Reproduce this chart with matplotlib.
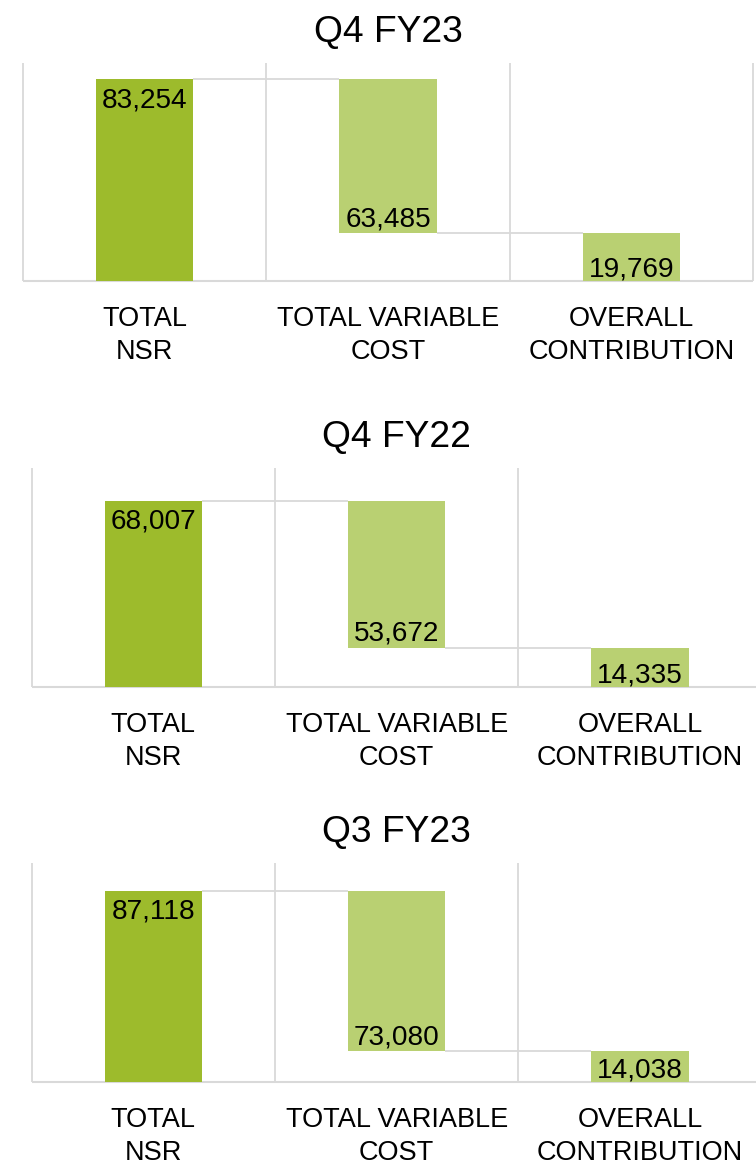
import matplotlib
matplotlib.use("Agg")
import matplotlib.pyplot as plt

# data
titles = ["Q4 FY23", "Q4 FY22", "Q3 FY23"]
categories = ["TOTAL\nNSR", "TOTAL VARIABLE\nCOST", "OVERALL\nCONTRIBUTION"]
total_nsr = [83254, 68007, 87118]
variable_cost = [63485, 53672, 73080]
contribution = [19769, 14335, 14038]
y_max = [90000, 80000, 100000]

DARK_GREEN = "#9dbb2c"
LIGHT_GREEN = "#b9d072"
GRID_GRAY = "#d9d9d9"

W, H = 756, 1168
# axes boxes in pixels: left, right, top, baseline
PANELS = [
    (23.0, 753.0, 63.0, 281.0),
    (31.7, 761.7, 468.0, 686.7),
    (31.7, 761.7, 862.7, 1081.7),
]
BAR_W = 0.4

plt.rcParams["font.family"] = ["Liberation Sans", "DejaVu Sans"]

fig = plt.figure(figsize=(W / 100, H / 100), dpi=100)
fig.patch.set_facecolor("white")

for k, (left, right, top, base) in enumerate(PANELS):
    ax = fig.add_axes([left / W, (H - base) / H, (right - left) / W, (base - top) / H])
    ax.set_xlim(-0.5, len(categories) - 0.5)
    ax.set_ylim(0, y_max[k])
    for s in ax.spines.values():
        s.set_visible(False)

    nsr = total_nsr[k]
    cost = variable_cost[k]
    contrib = contribution[k]

    # category boundaries and baseline
    for b in range(len(categories) + 1):
        ax.vlines(b - 0.5, 0, y_max[k], colors=GRID_GRAY, linewidth=1.3, zorder=1, clip_on=False)
    ax.hlines(0, -0.5, len(categories) - 0.5, colors=GRID_GRAY, linewidth=1.5, zorder=1, clip_on=False)

    ax.bar(0, nsr, width=BAR_W, color=DARK_GREEN, zorder=3)
    ax.bar(1, cost, bottom=nsr - cost, width=BAR_W, color=LIGHT_GREEN, zorder=3)
    ax.bar(2, contrib, width=BAR_W, color=LIGHT_GREEN, zorder=3)

    # connectors
    ax.hlines(nsr, 0 + BAR_W / 2, 1 - BAR_W / 2, colors=GRID_GRAY, linewidth=1.3, zorder=2)
    ax.hlines(nsr - cost, 1 + BAR_W / 2, 2 - BAR_W / 2, colors=GRID_GRAY, linewidth=1.3, zorder=2)

    lab_kw = dict(textcoords="offset points", ha="center", va="baseline",
                  fontsize=20.2, color="black", zorder=4)
    ax.annotate(f"{nsr:,}", xy=(0, nsr), xytext=(0, -20), **lab_kw)
    ax.annotate(f"{cost:,}", xy=(1, nsr - cost), xytext=(0, 5), **lab_kw)
    ax.annotate(f"{contrib:,}", xy=(2, 0), xytext=(0, 3), **lab_kw)

    ax.set_yticks([])
    ax.set_xticks(range(len(categories)))
    ax.set_xticklabels(categories, fontsize=19.5)
    ax.tick_params(axis="x", length=0, pad=18)
    for t in ax.get_xticklabels():
        t.set_linespacing(1.36)

    ax.set_title(titles[k], fontsize=26.8, pad=15)

fig.savefig("out.png", dpi=100, facecolor="white")
